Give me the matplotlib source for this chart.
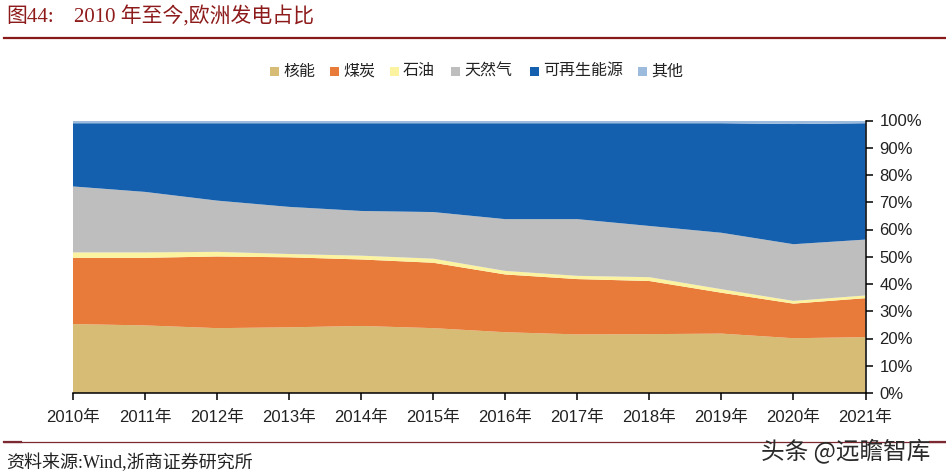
import matplotlib
matplotlib.use("Agg")
import matplotlib.pyplot as plt
from matplotlib.patches import Rectangle
from matplotlib.lines import Line2D

cjk = 'Noto Sans CJK SC'
plt.rcParams['font.family'] = ['Liberation Sans', cjk]

years = ['2010年', '2011年', '2012年', '2013年', '2014年', '2015年',
         '2016年', '2017年', '2018年', '2019年', '2020年', '2021年']
nuclear = [25.3, 24.8, 23.8, 24.1, 24.6, 23.8, 22.3, 21.5, 21.6, 21.8, 20.1, 20.5]
coal = [24.3, 24.8, 26.3, 25.7, 24.4, 24.0, 21.2, 20.3, 19.5, 15.0, 12.7, 14.3]
oil = [2.0, 2.0, 1.7, 1.2, 1.4, 1.5, 1.3, 1.2, 1.4, 1.3, 1.0, 1.0]
gas = [24.2, 22.2, 18.8, 17.3, 16.4, 17.1, 19.0, 20.8, 18.8, 20.7, 20.8, 20.5]
renewables = [23.2, 25.2, 28.4, 30.7, 32.2, 32.6, 35.2, 35.2, 37.7, 40.2, 44.1, 42.7]
other = [1.0, 1.0, 1.0, 1.0, 1.0, 1.0, 1.0, 1.0, 1.0, 1.0, 1.3, 1.0]

labels = ['核能', '煤炭', '石油', '天然气', '可再生能源', '其他']
colors = ['#D6BC74', '#E97B3A', '#FBF3A0', '#BEBEBE', '#1560AE', '#9DBBDD']

W, H = 946, 476
fig = plt.figure(figsize=(W / 100, H / 100), dpi=100)
ax = fig.add_axes([73 / W, 1 - 393 / H, (865.5 - 73) / W, 272.5 / H])

x = list(range(len(years)))
ax.stackplot(x, nuclear, coal, oil, gas, renewables, other, colors=colors, linewidth=0)
ax.set_xlim(0, len(years) - 1)
ax.set_ylim(0, 100)

ax.spines['top'].set_visible(False)
ax.spines['left'].set_visible(False)
ax.spines['right'].set_linewidth(1.1)
ax.spines['bottom'].set_linewidth(1.1)
ax.yaxis.tick_right()
ax.set_yticks(range(0, 101, 10))
ax.set_yticklabels([f'{v}%' for v in range(0, 101, 10)], fontsize=12, color='#222222')
ax.set_xticks(x)
ax.set_xticklabels(years, fontsize=12, color='#222222')
ax.tick_params(axis='both', length=5, width=1.1, direction='out', pad=5)
ax.tick_params(axis='x', pad=7)

# legend, drawn in pixel positions of the figure
legend_x = [270, 330, 390, 451, 530, 638]
for lx, lab, col in zip(legend_x, labels, colors):
    fig.add_artist(Rectangle((lx / W, 1 - 76 / H), 9 / W, 9 / H, transform=fig.transFigure,
                             color=col, linewidth=0))
    fig.text((lx + 13) / W, 1 - 71 / H, lab, fontsize=11.5, va='center', ha='left',
             family=[cjk], color='#222222')

# header and footer
red = '#8E1B1B'
fig.text(6 / W, 1 - 17 / H, '图44:', fontsize=15, va='center', ha='left',
         family=['Liberation Serif', cjk], color=red)
fig.text(74 / W, 1 - 17 / H, '2010 年至今,欧洲发电占比', fontsize=15, va='center', ha='left',
         family=['Liberation Serif', cjk], color=red)
fig.add_artist(Line2D([4 / W, 1], [1 - 38 / H] * 2, color='#8A1A1A', linewidth=1.6))
fig.add_artist(Line2D([4 / W, 1], [1 - 441.5 / H] * 2, color='#7A2A30', linewidth=0.9))
fig.add_artist(Line2D([4 / W, 21 / W], [1 - 441.5 / H] * 2, color='#7A2A30', linewidth=1.6))
fig.add_artist(Line2D([930 / W, 1], [1 - 441.5 / H] * 2, color='#7A2A30', linewidth=1.6))
fig.text(6 / W, 1 - 463 / H, '资料来源:Wind,浙商证券研究所', fontsize=13, va='center', ha='left',
         family=['Liberation Serif', cjk], color='#222222')
fig.text(846 / W, 1 - 451 / H, '头条 @远瞻智库', fontsize=17, va='center', ha='center',
         family=[cjk], color='#2A2A2A')

fig.savefig('out.png', dpi=100)
